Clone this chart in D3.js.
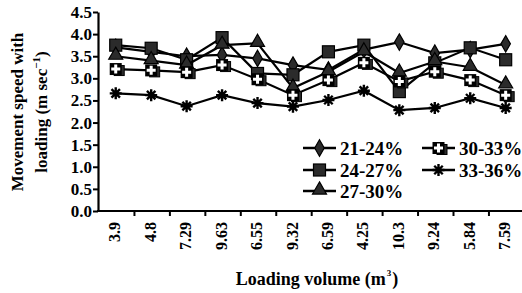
<!DOCTYPE html>
<html>
<head>
<meta charset="utf-8">
<script src="https://cdn.jsdelivr.net/npm/d3@7"></script>
<style>
  html, body { margin: 0; padding: 0; background: #fff; }
  svg { display: block; font-family: "Liberation Serif", "Times New Roman", serif; font-weight: bold; }
</style>
</head>
<body>
<div id="chart"></div>
<script>
// categories (loading volume, m3) in plotted order
var volumes = ['3.9', '4.8', '7.29', '9.63', '6.55', '9.32', '6.59', '4.25', '10.3', '9.24', '5.84', '7.59'];

// movement speed with loading (m/s), one array per moisture class
var s21_24 = [3.70, 3.60, 3.50, 3.53, 3.45, 3.30, 3.19, 3.65, 3.82, 3.57, 3.65, 3.78];
var s24_27 = [3.75, 3.68, 3.42, 3.92, 3.11, 3.08, 3.60, 3.75, 2.70, 3.35, 3.69, 3.42];
var s27_30 = [3.50, 3.40, 3.30, 3.75, 3.79, 2.78, 3.15, 3.60, 3.12, 3.38, 3.25, 2.85];
var s30_33 = [3.21, 3.18, 3.14, 3.30, 2.98, 2.62, 2.96, 3.35, 2.93, 3.15, 2.96, 2.62];
var s33_36 = [2.66, 2.62, 2.37, 2.62, 2.44, 2.36, 2.51, 2.72, 2.28, 2.33, 2.55, 2.33];

var seriesNames = ['21-24%', '24-27%', '27-30%', '30-33%', '33-36%'];
var seriesMarks = ['diamond', 'square', 'triangle', 'plus', 'star'];
var seriesVals = [s21_24, s24_27, s27_30, s30_33, s33_36];

var yTicks = [0, 0.5, 1, 1.5, 2, 2.5, 3, 3.5, 4, 4.5];

var W = 522, H = 293;
var DARK = '#2b2b2b';

var svg = d3.select('#chart').append('svg')
    .attr('width', W)
    .attr('height', H);

var x = d3.scaleBand()
    .domain(volumes)
    .range([99, 99 + 12 * 35.45])
    .padding(0);

var y = d3.scaleLinear()
    .domain([0, 4.5])
    .range([211, 12]);

function cx(d) { return x(d) + x.bandwidth() / 2 - 1; }

// y axis
var yAxis = svg.append('g')
    .attr('transform', 'translate(98,0)')
    .call(d3.axisLeft(y).tickValues(yTicks).tickFormat(d3.format('.1f')).tickSize(5).tickSizeOuter(0));
yAxis.select('.domain').attr('stroke', '#000').attr('stroke-width', 2.2);
yAxis.selectAll('.tick line').attr('stroke', '#000').attr('stroke-width', 2);
yAxis.selectAll('.tick text')
    .attr('x', -6)
    .attr('font-family', '"Liberation Serif", serif')
    .attr('font-weight', 'bold')
    .attr('font-size', 17)
    .attr('fill', '#000');

// x axis: labels at band centres, ticks at band edges
var xAxis = svg.append('g')
    .attr('transform', 'translate(0,211)')
    .call(d3.axisBottom(x).tickSize(0).tickSizeOuter(0));
xAxis.select('.domain').attr('stroke', '#000').attr('stroke-width', 2.2)
    .attr('d', 'M97,0H' + W);
xAxis.selectAll('.tick text')
    .attr('font-family', '"Liberation Serif", serif')
    .attr('font-weight', 'bold')
    .attr('font-size', 16)
    .attr('fill', '#000')
    .attr('text-anchor', 'end')
    .attr('dy', '0.35em')
    .attr('transform', 'translate(-2,11) rotate(-90)')
    .attr('x', 0)
    .attr('y', 0);
xAxis.selectAll('line.edge')
    .data(volumes.slice(1))
    .join('line')
    .attr('class', 'edge')
    .attr('x1', function(d) { return x(d); })
    .attr('x2', function(d) { return x(d); })
    .attr('y1', 0)
    .attr('y2', 5)
    .attr('stroke', '#000')
    .attr('stroke-width', 2);

// axis titles
var yTitle = svg.append('text')
    .attr('transform', 'translate(23,112) rotate(-90)')
    .attr('text-anchor', 'middle')
    .attr('font-size', 17)
    .attr('fill', '#000');
yTitle.append('tspan').attr('x', 0).attr('dy', 0).text('Movement speed with');
var l2 = yTitle.append('tspan').attr('x', 0).attr('dy', 24).text('loading (m sec');
l2.append('tspan').attr('font-size', 11).attr('dy', -7).text('\u22121');
yTitle.append('tspan').attr('dy', 7).text(')');

var xTitle = svg.append('text')
    .attr('x', 317)
    .attr('y', 285)
    .attr('text-anchor', 'middle')
    .attr('font-size', 18)
    .attr('fill', '#000');
xTitle.append('tspan').text('Loading volume (m');
xTitle.append('tspan').attr('font-size', 9).attr('dx', 1).attr('dy', -9).text('3');
xTitle.append('tspan').attr('dx', 1).attr('dy', 9).text(')');

// markers
function drawMarker(g, kind, px, py) {
    if (kind === 'diamond') {
        g.append('path')
            .attr('d', d3.symbol(d3.symbolDiamond, 78)())
            .attr('transform', 'translate(' + px + ',' + py + ')')
            .attr('fill', DARK).attr('stroke', '#000').attr('stroke-width', 1.2);
    } else if (kind === 'square') {
        g.append('rect')
            .attr('x', px - 6).attr('y', py - 6).attr('width', 12).attr('height', 12)
            .attr('fill', DARK).attr('stroke', '#000').attr('stroke-width', 1.2);
    } else if (kind === 'triangle') {
        g.append('path')
            .attr('d', d3.symbol(d3.symbolTriangle, 85)())
            .attr('transform', 'translate(' + px + ',' + (py - 1) + ')')
            .attr('fill', DARK).attr('stroke', '#000').attr('stroke-width', 1.2);
    } else if (kind === 'plus') {
        g.append('rect')
            .attr('x', px - 1.5).attr('y', py - 3.5).attr('width', 10).attr('height', 10)
            .attr('fill', DARK).attr('stroke', '#000').attr('stroke-width', 1);
        g.append('rect')
            .attr('x', px - 6).attr('y', py - 6).attr('width', 12).attr('height', 12)
            .attr('fill', '#000');
        g.append('path')
            .attr('d', 'M' + (px - 4.5) + ',' + py + 'H' + (px + 4.5) + 'M' + px + ',' + (py - 4.5) + 'V' + (py + 4.5))
            .attr('stroke', '#fff').attr('stroke-width', 3);
    } else if (kind === 'star') {
        var r = 6, p = '';
        [0, 45, 90, 135].forEach(function(a) {
            var t = a * Math.PI / 180;
            p += 'M' + (px - r * Math.cos(t)) + ',' + (py - r * Math.sin(t)) +
                 'L' + (px + r * Math.cos(t)) + ',' + (py + r * Math.sin(t));
        });
        g.append('path').attr('d', p).attr('stroke', '#000').attr('stroke-width', 2.4);
        g.append('circle').attr('cx', px).attr('cy', py).attr('r', 2).attr('fill', '#000');
    }
}

var line = d3.line()
    .x(function(d, i) { return cx(volumes[i]); })
    .y(function(d) { return y(d); });

var plot = svg.append('g');
seriesVals.forEach(function(vals, k) {
    var g = plot.append('g');
    g.append('path')
        .attr('d', line(vals))
        .attr('fill', 'none')
        .attr('stroke', '#000')
        .attr('stroke-width', 2.2);
    vals.forEach(function(v, i) {
        drawMarker(g, seriesMarks[k], cx(volumes[i]), y(v));
    });
});

// legend
var legendPos = [
    [303, 148], [303, 170], [303, 191],
    [422, 148], [422, 170]
];
var legend = svg.append('g');
seriesNames.forEach(function(name, k) {
    var p = legendPos[k];
    var g = legend.append('g');
    g.append('line')
        .attr('x1', p[0]).attr('x2', p[0] + 33)
        .attr('y1', p[1]).attr('y2', p[1])
        .attr('stroke', '#000').attr('stroke-width', 2.4);
    drawMarker(g, seriesMarks[k], p[0] + 16.5, p[1]);
    g.append('text')
        .attr('x', p[0] + 37)
        .attr('y', p[1])
        .attr('dy', '0.35em')
        .attr('font-size', 19)
        .attr('fill', '#000')
        .text(name);
});
</script>
</body>
</html>
